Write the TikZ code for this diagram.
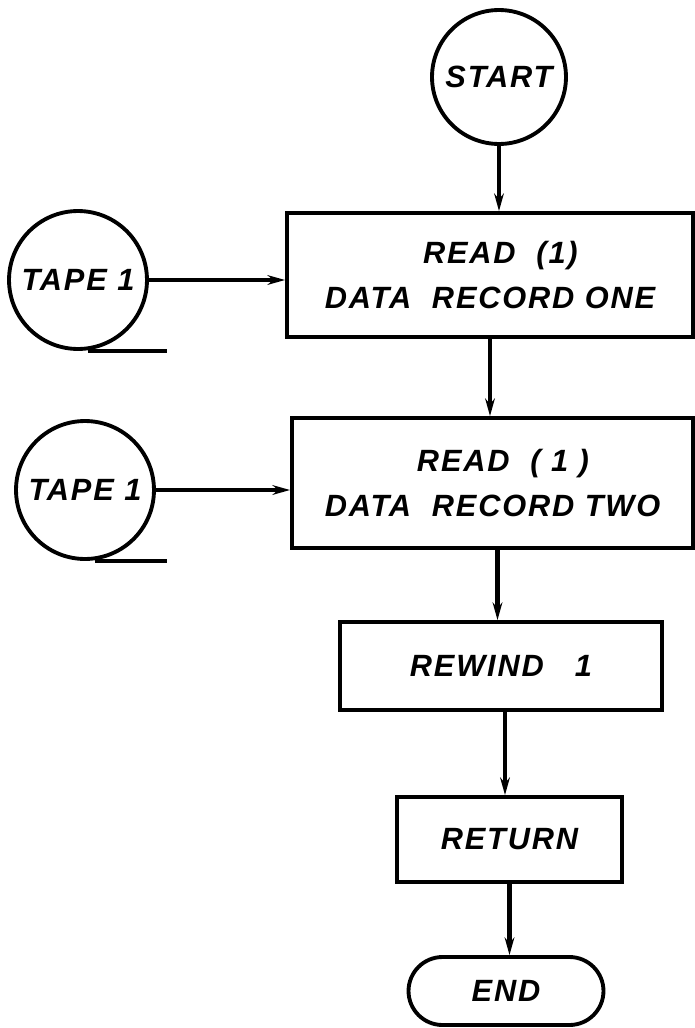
\documentclass[tikz,border=0pt]{standalone}
\usepackage{fontspec}
\setmainfont{Liberation Sans}
\newfontfamily\letterfont[LetterSpace=6]{Liberation Sans}
\usetikzlibrary{shapes.misc,arrows.meta}

\begin{document}
\begin{tikzpicture}[x=0.02cm, y=-0.02cm, line width=2.2pt,
  every node/.style={draw, line width=2.2pt, inner sep=0pt, align=center,
    font=\letterfont\bfseries\itshape\fontsize{17.5}{25.5}\selectfont},
  tape/.style={circle, minimum size=2.76cm},
  box/.style={rectangle},
  flow/.style={line width=2.4pt, -{Stealth[length=10pt, width=5.5pt]}}]
\useasboundingbox (0,0) rectangle (695,1028);

\node[tape, minimum size=2.68cm] (start) at (499,77) {START};
\node[box, minimum width=8.12cm, minimum height=2.48cm] (read1) at (490,275) {\ \ READ\ \ (1)\\DATA\ \ RECORD ONE};
\node[tape] (tapea) at (78,280) {TAPE 1};
\node[box, minimum width=8.02cm, minimum height=2.6cm] (read2) at (492.5,483) {\ \ READ\ \ ( 1 )\\DATA\ \ RECORD TWO};
\node[tape] (tapeb) at (85,490) {TAPE 1};
\node[box, minimum width=6.44cm, minimum height=1.76cm] (rewind) at (501,666) {REWIND\ \ \ 1};
\node[box, minimum width=4.5cm, minimum height=1.7cm] (ret) at (509.5,839.5) {RETURN};
\node[rounded rectangle, minimum width=3.9cm, minimum height=1.36cm] (stop) at (506,991) {END};

\coordinate (taila) at (167,347);
\coordinate (tailb) at (167,557);

\draw[flow] (start.south) -- (start.south |- read1.north);
\draw[flow] (read1.south) -- (read1.south |- read2.north);
\draw[flow] ([xshift=0.1cm]read2.south) -- ([xshift=0.1cm]read2.south |- rewind.north);
\draw[flow] ([xshift=0.08cm]rewind.south) -- ([xshift=0.08cm]rewind.south |- ret.north);
\draw[flow] (ret.south) -- (ret.south |- stop.north);

\draw[flow] (tapea.east) -- (tapea.east -| read1.west);
\draw[flow] (tapeb.east) -- (tapeb.east -| read2.west);
\draw ([xshift=0.2cm]tapea.south) -- (tapea.south -| taila);
\draw ([xshift=0.2cm]tapeb.south) -- (tapeb.south -| tailb);
\end{tikzpicture}
\end{document}
